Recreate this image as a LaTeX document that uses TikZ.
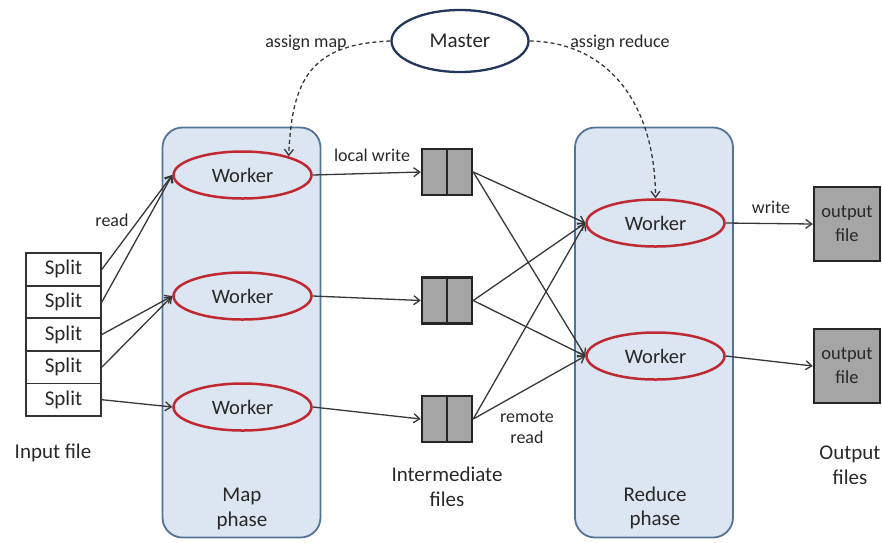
\documentclass[tikz,border=0pt]{standalone}
\usepackage{fontspec}
\setmainfont{Carlito}
\usetikzlibrary{arrows.meta,shapes.geometric}
\definecolor{phasefill}{RGB}{220,230,242}
\definecolor{phasedraw}{RGB}{85,115,150}
\definecolor{workred}{RGB}{192,40,50}
\definecolor{masterblue}{RGB}{35,55,90}
\definecolor{filegray}{RGB}{165,165,165}
\definecolor{linegray}{RGB}{55,55,55}
\definecolor{txt}{RGB}{40,40,40}
\begin{document}
\begin{tikzpicture}[x=1pt,y=-1pt,
  every node/.style={text=txt},
  phase/.style={rectangle, draw=phasedraw, fill=phasefill, line width=1.8pt, rounded corners=20pt, minimum width=158pt, minimum height=410pt},
  worker/.style={ellipse, draw=workred, line width=2.5pt, minimum width=138pt, minimum height=47pt, inner sep=0pt, font=\fontsize{20.5}{24}\selectfont},
  master/.style={ellipse, draw=masterblue, fill=white, line width=2.3pt, minimum width=137pt, minimum height=62pt, inner sep=0pt, font=\fontsize{21}{25}\selectfont},
  split/.style={rectangle, draw=black!80, fill=white, line width=1.8pt, minimum width=75pt, minimum height=32.6pt, inner sep=0pt, font=\fontsize{21}{25}\selectfont},
  ifile/.style={rectangle, draw=black!85, fill=filegray, line width=2.5pt, minimum width=50pt, minimum height=46pt, inner sep=0pt},
  ofile/.style={rectangle, draw=black!85, fill=filegray, line width=2.5pt, minimum width=66pt, minimum height=74pt, inner sep=0pt, align=center, font=\fontsize{18.5}{24}\selectfont},
  lbl/.style={align=center, font=\fontsize{21}{24.5}\selectfont},
  small/.style={align=center, font=\fontsize{18}{21}\selectfont},
  conn/.style={draw=linegray, line width=1.3pt, -{Straight Barb[length=6pt,width=9pt,line width=1.3pt]}},
  dconn/.style={conn, dash pattern=on 4pt off 3pt}
]
\useasboundingbox (0,0) rectangle (882,542);

% phases
\node[phase] (mapbox) at (241.5,332.5) {};
\node[phase] (redbox) at (654,332.5) {};

% master
\node[master] (master) at (460,41) {Master};

% workers
\node[worker] (w1) at (242.5,175) {Worker};
\node[worker] (w2) at (242.5,296) {Worker};
\node[worker] (w3) at (242.5,407) {Worker};
\node[worker] (r1) at (655.5,223) {Worker};
\node[worker] (r2) at (655.5,356) {Worker};

% splits
\node[split] (s1) at (63.5,269.3) {Split};
\node[split] (s2) at (63.5,301.9) {Split};
\node[split] (s3) at (63.5,334.5) {Split};
\node[split] (s4) at (63.5,367.1) {Split};
\node[split] (s5) at (63.5,399.7) {Split};

% intermediate files
\node[ifile] (f1) at (447,172) {};
\node[ifile] (f2) at (447,300.5) {};
\node[ifile] (f3) at (447,419) {};
\foreach \f in {f1,f2,f3}{\draw[black!85, line width=2.5pt] (\f.north) -- (\f.south);}

% output files
\node[ofile] (o1) at (847,224) {output\\file};
\node[ofile] (o2) at (847,366) {output\\file};

% labels
\node[lbl] (linput) at (53,453) {Input file};
\node[lbl] (lmap) at (242,509) {Map\\phase};
\node[lbl] (linter) at (447,487) {Intermediate\\files};
\node[lbl] (lred) at (655,508) {Reduce\\phase};
\node[lbl] (lout) at (850,465) {Output\\files};
\node[small] (lread) at (112,220) {read};
\node[small] (llocal) at (372,155) {local write};
\node[small] (lwrite) at (771,207) {write};
\node[small] (lremote) at (527,427) {remote\\read};
\node[small] (lamap) at (306,43) {assign map};
\node[small] (lared) at (620,43) {assign reduce};

% read
\draw[conn] (s1.east) -- (w1.west);
\draw[conn] (s2.east) -- (w1.west);
\draw[conn] (s3.east) -- (w2.west);
\draw[conn] (s4.east) -- (w2.west);
\draw[conn] (s5.east) -- (w3.west);

% local write
\draw[conn] (w1.east) -- (f1.west);
\draw[conn] (w2.east) -- (f2.west);
\draw[conn] (w3.east) -- (f3.west);

% remote read
\foreach \f in {f1,f2,f3}{
  \draw[conn] (\f.east) -- (r1.west);
  \draw[conn] (\f.east) -- (r2.west);
}

% write
\draw[conn] (r1.east) -- (o1.west);
\draw[conn] (r2.east) -- (o2.west);

% assign
\draw[dconn] (master.west) .. controls (310,44) and (292,80) .. (w1.22);
\draw[dconn] (master.east) .. controls (605,42) and (655,100) .. (r1.north);
\end{tikzpicture}
\end{document}
